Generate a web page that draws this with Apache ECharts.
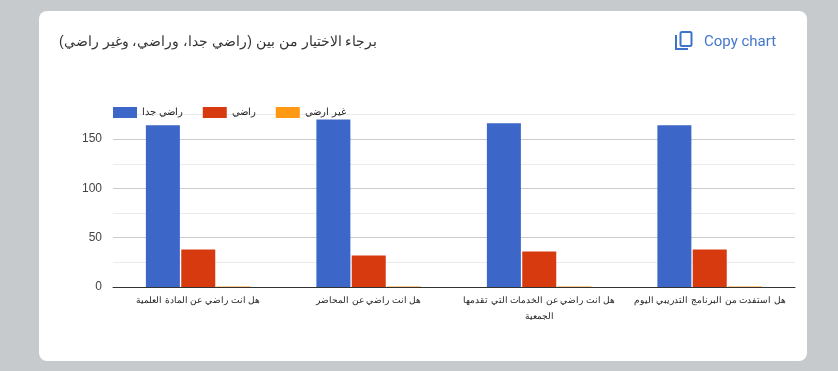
<!DOCTYPE html>
<html>
<head>
<meta charset="utf-8">
<style>
    html, body { margin: 0; padding: 0; background: #c6cacd; }
    #chart { width: 838px; height: 371px; }
</style>
</head>
<body>
<div id="chart"></div>
<script src="https://cdn.jsdelivr.net/npm/echarts@6/dist/echarts.min.js"></script>
<script>
const titleText = "\u200Fبرجاء الاختيار من بين (راضي جدا، وراضي، وغير راضي)\u200F";
const categories = [
    "هل انت راضي عن المادة العلمية",
    "هل انت راضي عن المحاضر",
    "هل انت راضي عن الخدمات التي تقدمها\nالجمعية",
    "هل استفدت من البرنامج التدريبي اليوم",
];
const seriesNames = ["راضي جدا", "راضي", "غير ارضي"];
const verySatisfied = [164, 170, 166, 164];
const satisfied = [38, 32, 36, 38];
const notSatisfied = [0.5, 0.5, 0.5, 0.5];

const fontFamily = "Arial, 'Liberation Sans', 'Noto Sans', sans-serif";

const chart = echarts.init(document.getElementById("chart"), null, { renderer: "canvas" });

function barSeries(name, color, data) {
    return {
        name: name,
        type: "bar",
        barWidth: 34,
        barGap: "4%",
        itemStyle: { color: color },
        data: data,
        z: 3,
    };
}

chart.setOption({
    animation: false,
    backgroundColor: "#c6cacd",
    textStyle: { fontFamily: fontFamily },
    title: {
        text: titleText,
        left: 59,
        top: 35,
        padding: 0,
        textStyle: { fontSize: 14, fontWeight: "normal", color: "#333", fontFamily: fontFamily },
    },
    legend: {
        left: 113,
        top: 107,
        padding: 0,
        icon: "rect",
        itemWidth: 24,
        itemHeight: 11,
        itemGap: 20,
        data: seriesNames,
        textStyle: { fontSize: 10, color: "#222", fontFamily: fontFamily },
    },
    grid: { left: 113, right: 43, top: 114.5, bottom: 84 },
    xAxis: {
        type: "category",
        data: categories,
        z: 4,
        axisTick: { show: false },
        axisLine: { lineStyle: { color: "#333", width: 1 } },
        axisLabel: { fontSize: 9, color: "#222", margin: 6, lineHeight: 16, interval: 0, fontFamily: fontFamily },
    },
    yAxis: {
        type: "value",
        min: 0,
        max: 175,
        interval: 25,
        axisLine: { show: false },
        axisTick: { show: false },
        axisLabel: {
            fontSize: 12,
            color: "#444",
            margin: 11,
            padding: [2, 0, 0, 0],
            fontFamily: fontFamily,
            formatter: function (value) {
                return value % 50 === 0 ? String(value) : "";
            },
        },
        splitLine: { lineStyle: { color: ["#cccccc", "#ebebeb"], width: 1 } },
    },
    series: [
        barSeries(seriesNames[0], "#3c66c8", verySatisfied),
        barSeries(seriesNames[1], "#d83a10", satisfied),
        barSeries(seriesNames[2], "#ff9914", notSatisfied),
    ],
    graphic: [
        {
            type: "rect",
            z: -10,
            silent: true,
            shape: { x: 39, y: 11, width: 768, height: 350, r: 8 },
            style: { fill: "#fff" },
        },
        // copy icon: front sheet
        {
            type: "rect",
            z: 5,
            silent: true,
            shape: { x: 680.5, y: 32, width: 11, height: 14, r: 1.5 },
            style: { fill: "none", stroke: "#3f73c9", lineWidth: 2 },
        },
        // copy icon: back sheet
        {
            type: "polyline",
            z: 5,
            silent: true,
            shape: { points: [[676, 35], [676, 49], [688, 49]] },
            style: { fill: "none", stroke: "#3f73c9", lineWidth: 2 },
        },
        {
            type: "text",
            z: 5,
            silent: true,
            x: 704,
            y: 35,
            style: {
                text: "Copy chart",
                font: "400 15px Roboto",
                fill: "#4377cc",
            },
        },
    ],
});
</script>
</body>
</html>
